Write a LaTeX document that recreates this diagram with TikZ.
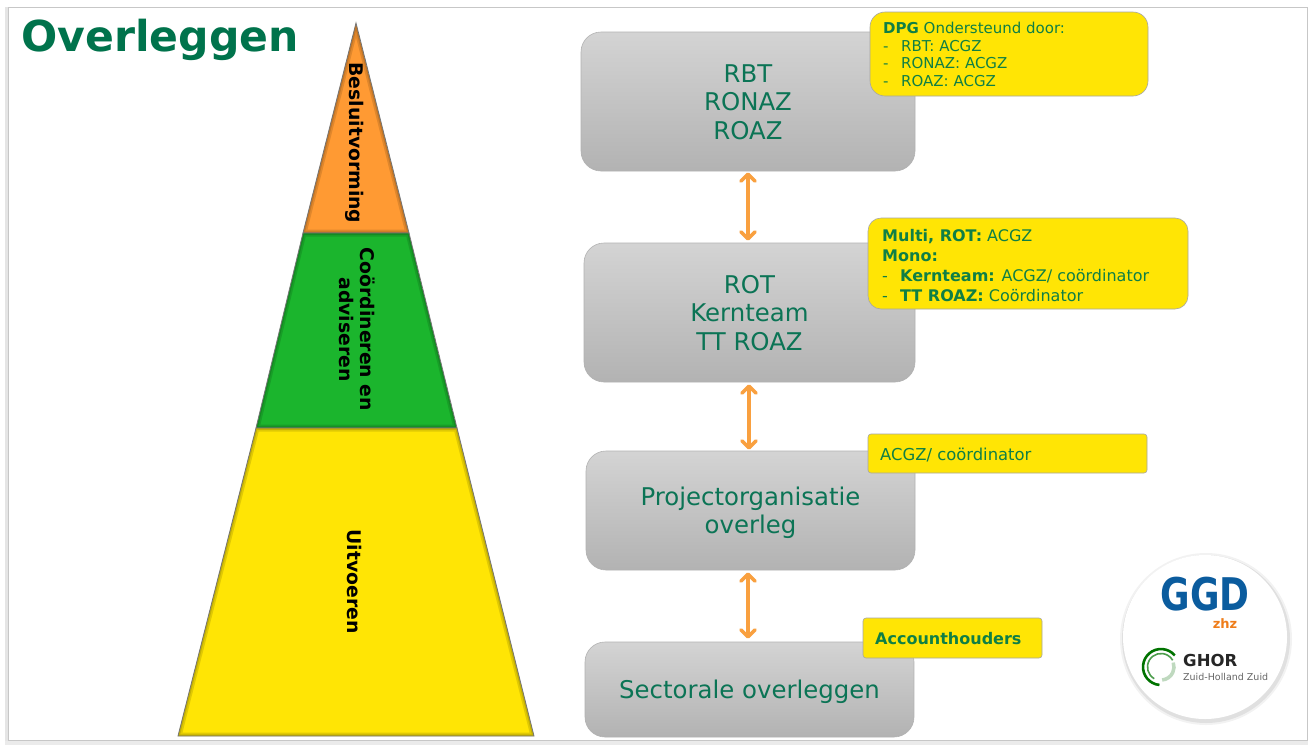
\documentclass[tikz,border=0pt]{standalone}
\usepackage{fontspec}
\setmainfont{DejaVu Sans}
\usetikzlibrary{shadows,calc,arrows.meta,positioning}
\definecolor{deep}{HTML}{00734C}
\definecolor{boxtxt}{HTML}{0B7455}
\definecolor{calltxt}{HTML}{0F7F45}
\definecolor{gele}{HTML}{FFE505}
\definecolor{orangeA}{HTML}{FF9A33}
\definecolor{groen}{HTML}{1BB52D}
\definecolor{pijl}{HTML}{F9A03F}
\definecolor{ggdblue}{HTML}{0B5C9E}
\definecolor{zhzor}{HTML}{EF7D1A}
\newcommand{\fs}[1]{\fontsize{#1}{#1}\selectfont}
\newcommand{\li}[1]{\makebox[18pt][l]{-}#1}
\tikzset{
  x=1pt,y=-1pt,
  greybox/.style={draw=black!30,line width=0.6pt,rounded corners=20pt,top color=black!17,bottom color=black!30,inner sep=0pt},
  boxtext/.style={text=boxtxt,align=center,inner sep=0pt,font=\fs{24.4}},
  callout/.style={text=calltxt,align=left,anchor=north west,inner sep=0pt,font=\fs{15}},
  callbg/.style={draw=black!35,line width=0.6pt,fill=gele},
  seg/.style={draw=black!55,line width=0.8pt},
  seglabel/.style={rotate=-90,align=center,text=black,font=\bfseries\fs{18.8},inner sep=0pt},
  link/.style={draw=pijl,line width=3.6pt,{Straight Barb[length=7pt,width=14pt,round]}-{Straight Barb[length=7pt,width=14pt,round]}},
}
\newcommand{\segm}[2]{%
  \begin{scope}\clip #2;
  \fill[#1] #2;
  \draw[black,opacity=.12,line width=7pt] #2;
  \draw[black,opacity=.12,line width=3.5pt] #2;
  \end{scope}
  \draw[seg] #2;}
\begin{document}
\begin{tikzpicture}
\useasboundingbox (0,0) rectangle (1314,745);
\fill[white] (0,0) rectangle (1314,745);
\fill[black!10] (5,7) rectangle (8,741);
\fill[black!8] (5,741) rectangle (1308,745);
\draw[black!22,line width=1pt] (8,7.5) rectangle (1307.5,740.5);

\node[anchor=west,text=deep,font=\bfseries\fs{42.6},inner sep=0pt] (title) at (21,40) {Overleggen};

% pyramid
\segm{orangeA}{(356,23) -- (409,233) -- (303,233) -- cycle}
\segm{groen}{(303,233) -- (409,233) -- (457,428) -- (256,428) -- cycle}
\segm{gele}{(256,428) -- (457,428) -- (534,736) -- (178,736) -- cycle}
\node[seglabel] (l1) at (355,143) {Besluitvorming};
\node[seglabel] (l2) at (357.5,329.5) {Coördineren en\\[2pt]adviseren};
\node[seglabel] (l3) at (355,581.5) {Uitvoeren};

% grey boxes
\node[greybox,minimum width=334pt,minimum height=139pt] (rbt) at (748,101.5) {};
\node[greybox,minimum width=331pt,minimum height=139pt] (rot) at (749.5,312.5) {};
\node[greybox,minimum width=329pt,minimum height=119pt] (proj) at (750.5,510.5) {};
\node[greybox,minimum width=329pt,minimum height=95pt] (sect) at (749.5,689.5) {};
\node[boxtext] (t1) at (748,102) {RBT\\[4pt]RONAZ\\[4pt]ROAZ};
\node[boxtext] (t2) at (749.5,313) {ROT\\[4pt]Kernteam\\[4pt]TT ROAZ};
\node[boxtext] (t3) at (750.5,512.5) {Projectorganisatie\\[4pt]overleg};
\node[boxtext] (t4) at (749.5,691.5) {Sectorale overleggen};

% arrows
\draw[link] ($(rbt.south)+(0,1)$) -- ($(rot.north)+(-1.5,-2)$);
\draw[link] ($(rot.south)+(-.5,2)$) -- ($(proj.north)+(-1.5,-1)$);
\draw[link] ($(proj.south)+(-2.5,2)$) -- ($(sect.north)+(-1.5,-3)$);

% callouts
\path[callbg,rounded corners=15pt] (870,12) rectangle (1148,96);
\node[callout] (c1) at (883,22) {\textbf{DPG} Ondersteund door:\\[2.6pt]\li{RBT: ACGZ}\\[2.6pt]\li{RONAZ: ACGZ}\\[2.6pt]\li{ROAZ: ACGZ}};
\path[callbg,rounded corners=13pt] (868,218) rectangle (1188,309);
\node[callout,font=\fs{16}] (c2) at (882,229) {\textbf{Multi, ROT:} ACGZ\\[4pt]\textbf{Mono:}\\[4pt]\li{\textbf{Kernteam:} ACGZ/ coördinator}\\[4pt]\li{\textbf{TT ROAZ:} Coördinator}};
\path[callbg,rounded corners=3pt] (868,434) rectangle (1147,473);
\node[callout,font=\fs{16.4}] (c3) at (880,448) {ACGZ/ coördinator};
\path[callbg,rounded corners=3pt] (863,618) rectangle (1042,658);
\node[callout,font=\bfseries\fs{16}] (c4) at (875,632) {Accounthouders};

% logo
\fill[black,opacity=.05] (1206,639) circle (86);
\fill[black,opacity=.07] (1206,639) circle (84);
\fill[white] (1205,637) circle (82);
\node[text=ggdblue,font=\bfseries\fs{45},inner sep=0pt,xscale=.8] (ggd) at (1205,594) {GGD};
\node[text=zhzor,font=\bfseries\fs{13},inner sep=0pt] (zhz) at (1225,623.5) {zhz};
\draw[green!45!black,line width=2.6pt] (1161,667) ++(95:18) arc (95:320:18);
\draw[green!45!black!70,line width=1.6pt] (1161,667) ++(120:13.5) arc (120:330:13.5);
\draw[green!40!black!25,line width=3.5pt] (1161,667) ++(85:13) arc (85:-20:13);
\node[anchor=west,text=black!85,font=\bfseries\fs{16.5},inner sep=0pt] (ghor) at (1183,660.5) {GHOR};
\node[anchor=west,text=black!60,font=\fs{9.5},inner sep=0pt] (zhl) at (1183,676.5) {Zuid-Holland Zuid};
\end{tikzpicture}
\end{document}
